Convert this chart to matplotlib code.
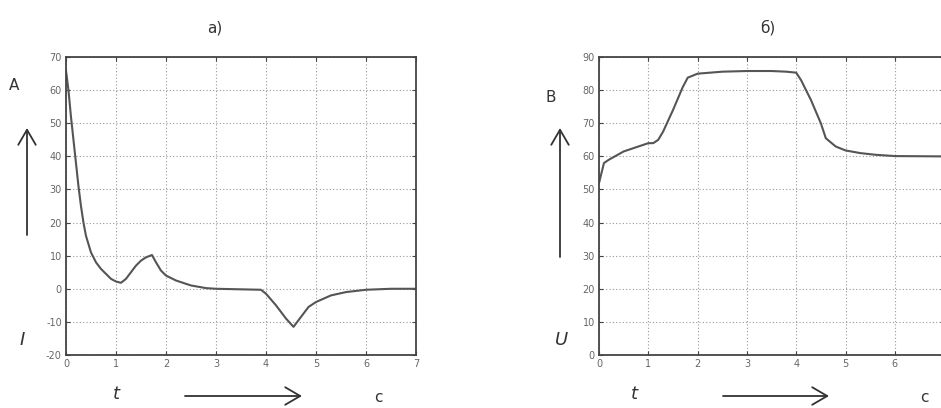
import matplotlib
matplotlib.use("Agg")
from matplotlib import pyplot as plt
from matplotlib.patches import FancyArrowPatch
import numpy as np

plt.rcParams["axes.unicode_minus"] = False

# current, panel a)
t_a = [0, 0.05, 0.1, 0.15, 0.2, 0.25, 0.3, 0.35, 0.4, 0.5, 0.6, 0.7, 0.8, 0.9, 1.0, 1.1,
       1.2, 1.3, 1.4, 1.5, 1.6, 1.72, 1.8, 1.9, 2.0, 2.2, 2.5, 2.8, 3.0, 3.9, 4.0, 4.2,
       4.4, 4.55, 4.7, 4.85, 5.0, 5.3, 5.6, 6.0, 6.5, 7.0]
i_a = [66, 60, 52, 45, 38, 31, 25, 20, 16, 11, 8, 6, 4.5, 3, 2.2, 1.8,
       3, 5, 7, 8.5, 9.5, 10.2, 8, 5.5, 4, 2.5, 1, 0.2, 0, -0.3, -1.5, -5,
       -9, -11.5, -8.5, -5.5, -4, -2, -1, -0.3, 0, 0]

# voltage, panel б)
t_b = [0, 0.05, 0.1, 0.2, 0.5, 0.8, 1.0, 1.1, 1.2, 1.3, 1.5, 1.7, 1.8, 2.0, 2.5, 3.0,
       3.5, 3.8, 4.0, 4.1, 4.3, 4.5, 4.6, 4.8, 5.0, 5.3, 5.6, 6.0, 7.0]
u_b = [52, 55, 58, 59, 61.5, 63, 64, 64, 65, 67.5, 74, 81, 83.8, 85, 85.6, 85.8,
       85.8, 85.6, 85.3, 83, 77, 70, 65.5, 63, 61.8, 61, 60.5, 60.1, 60]

fig = plt.figure(figsize=(9.41, 4.08), dpi=100)

def setup(ax, ylim, yticks):
    ax.set_xlim(0, 7)
    ax.set_ylim(*ylim)
    ax.set_xticks(range(8))
    ax.set_yticks(yticks)
    ax.grid(True, linestyle=(0, (1, 2)), color="#999999", linewidth=0.8)
    ax.tick_params(direction="in", top=True, right=True, labelsize=7,
                   labelcolor="#666666", color="#444444", length=3, pad=3)
    for s in ax.spines.values():
        s.set_linewidth(1.3)
        s.set_color("#444444")

ax1 = fig.add_axes([0.0701, 0.130, 0.372, 0.730])
ax1.plot(t_a, i_a, color="#555555", linewidth=1.5)
setup(ax1, (-20, 70), range(-20, 71, 10))

ax2 = fig.add_axes([0.6366, 0.130, 0.3667, 0.730])
ax2.plot(t_b, u_b, color="#555555", linewidth=1.5)
setup(ax2, (0, 90), range(0, 91, 10))
# the "7" label falls outside the picture, as in the original
ax2.set_xticklabels(["0", "1", "2", "3", "4", "5", "6", ""])

def px(x, y):
    return x / 941, 1 - y / 408

kw = dict(transform=fig.transFigure, ha="center", va="center", color="#333333")
fig.text(*px(215, 28), "а)", fontsize=11, **kw)
fig.text(*px(768, 28), "б)", fontsize=11, **kw)

fig.text(*px(14, 85), "A", fontsize=11, **kw)
fig.text(*px(22, 340), "I", fontsize=13, style="italic", **kw)
fig.text(*px(551, 97), "B", fontsize=11, **kw)
fig.text(*px(562, 340), "U", fontsize=13, style="italic", **kw)

fig.text(*px(116, 394), "t", fontsize=13, style="italic", **kw)
fig.text(*px(378, 397), "c", fontsize=11, **kw)
fig.text(*px(634, 394), "t", fontsize=13, style="italic", **kw)
fig.text(*px(924, 397), "c", fontsize=11, **kw)

def arrow(p0, p1):
    fig.add_artist(FancyArrowPatch(px(*p0), px(*p1), transform=fig.transFigure,
                                   arrowstyle="->,head_length=0.6,head_width=0.35",
                                   mutation_scale=18, color="#333333", lw=1.3,
                                   shrinkA=0, shrinkB=0))

arrow((27, 235), (27, 128))
arrow((560, 257), (560, 128))
arrow((185, 396), (302, 396))
arrow((723, 396), (829, 396))

fig.savefig("out.png", dpi=100)
